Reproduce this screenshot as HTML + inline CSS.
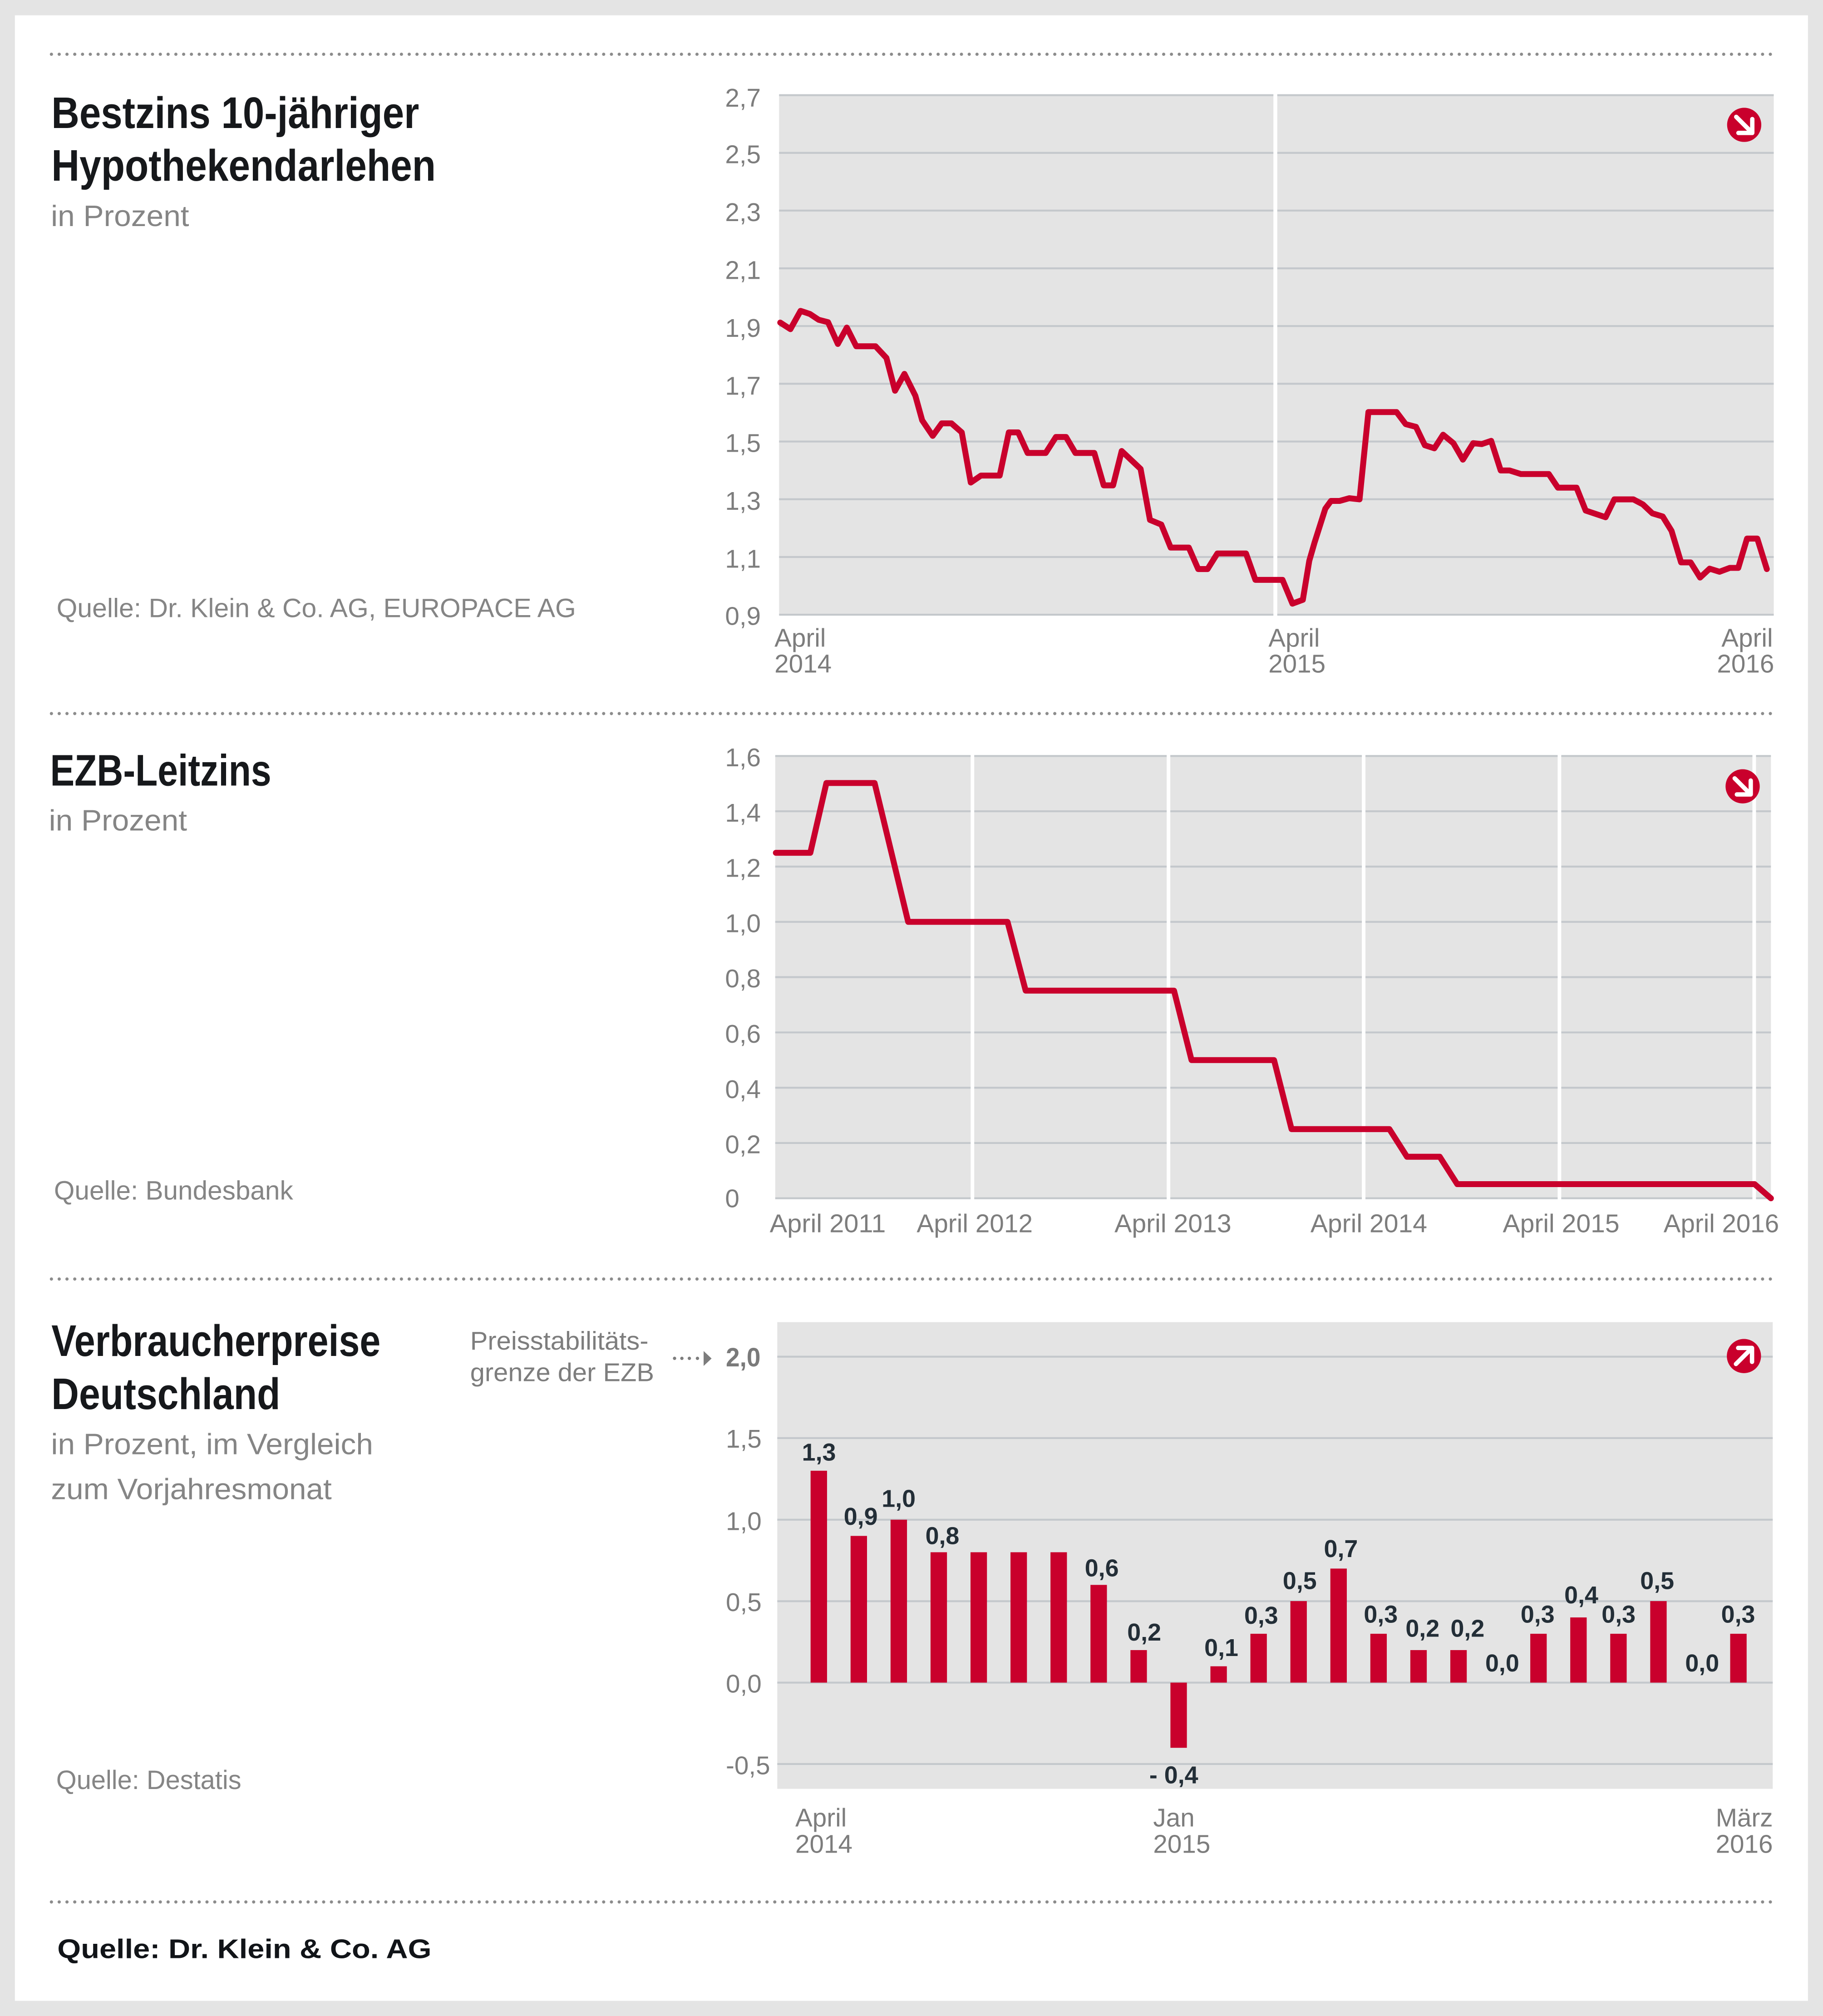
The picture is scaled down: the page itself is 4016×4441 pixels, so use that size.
<!DOCTYPE html>
<html>
<head>
<meta charset="utf-8">
<style>
html,body{margin:0;padding:0;background:#e4e4e4;}
body{width:4016px;height:4441px;overflow:hidden;}
svg{display:block;}
text{font-family:"Liberation Sans",Arial,sans-serif;}
</style>
</head>
<body>
<svg width="4016" height="4441" viewBox="0 0 1418 1568" preserveAspectRatio="none" xmlns="http://www.w3.org/2000/svg">
<rect x="0" y="0" width="1418" height="1568" fill="#e4e4e4"/>
<rect x="11.6" y="11.9" width="1394.7" height="1544.3" fill="#ffffff"/>

<!-- dotted separators -->
<g stroke="#8c8c8c" stroke-width="2.5" stroke-linecap="round" stroke-dasharray="0 6.05">
<line x1="40" y1="42.2" x2="1378" y2="42.2"/>
<line x1="40" y1="555" x2="1378" y2="555"/>
<line x1="40" y1="994.8" x2="1378" y2="994.8"/>
<line x1="40" y1="1479.3" x2="1378" y2="1479.3"/>
</g>

<!-- ============ SECTION 1 ============ -->
<text x="40" y="99.5" font-size="34.5" font-weight="bold" fill="#16181b" textLength="286" lengthAdjust="spacingAndGlyphs">Bestzins 10-jähriger</text>
<text x="40" y="140.6" font-size="34.5" font-weight="bold" fill="#16181b" textLength="299" lengthAdjust="spacingAndGlyphs">Hypothekendarlehen</text>
<text x="39.6" y="175.8" font-size="23" fill="#858585" textLength="107.5" lengthAdjust="spacingAndGlyphs">in Prozent</text>
<text x="44" y="480" font-size="20.5" fill="#858585" textLength="404" lengthAdjust="spacingAndGlyphs">Quelle: Dr. Klein &amp; Co. AG, EUROPACE AG</text>

<rect x="606" y="74" width="773.7" height="404.1" fill="#e4e4e4"/>
<g stroke="#c4c8cc" stroke-width="1.5">
<line x1="606" y1="74" x2="1379.7" y2="74"/>
<line x1="606" y1="118.9" x2="1379.7" y2="118.9"/>
<line x1="606" y1="163.8" x2="1379.7" y2="163.8"/>
<line x1="606" y1="208.7" x2="1379.7" y2="208.7"/>
<line x1="606" y1="253.6" x2="1379.7" y2="253.6"/>
<line x1="606" y1="298.5" x2="1379.7" y2="298.5"/>
<line x1="606" y1="343.4" x2="1379.7" y2="343.4"/>
<line x1="606" y1="388.3" x2="1379.7" y2="388.3"/>
<line x1="606" y1="433.2" x2="1379.7" y2="433.2"/>
<line x1="606" y1="478.1" x2="1379.7" y2="478.1"/>
</g>
<line x1="992" y1="72" x2="992" y2="479" stroke="#ffffff" stroke-width="3"/>

<g font-size="20" fill="#7d7d7d">
<text x="564" y="83">2,7</text>
<text x="564" y="127">2,5</text>
<text x="564" y="172">2,3</text>
<text x="564" y="217">2,1</text>
<text x="564" y="262">1,9</text>
<text x="564" y="307">1,7</text>
<text x="564" y="351.5">1,5</text>
<text x="564" y="396.5">1,3</text>
<text x="564" y="441.5">1,1</text>
<text x="564" y="486">0,9</text>
<text x="602.4" y="503">April</text>
<text x="602.4" y="523">2014</text>
<text x="986.6" y="503">April</text>
<text x="986.6" y="523">2015</text>
<text x="1379" y="503" text-anchor="end">April</text>
<text x="1380" y="523" text-anchor="end">2016</text>
</g>

<polyline fill="none" stroke="#c9002c" stroke-width="4.6" stroke-linejoin="round" stroke-linecap="round" points="606.9,250.9 614.8,256.0 622.7,241.8 630.0,244.2 636.8,248.7 644.1,250.6 651.7,267.5 658.7,254.8 666.0,269.3 681.0,269.3 689.5,278.4 696.2,303.9 703.5,290.8 712.0,307.8 717.3,326.9 725.5,339.0 732.5,329.3 740.1,329.3 748.1,336.3 755.1,375.3 763.0,369.9 777.6,369.9 784.7,336.3 792.0,336.3 799.3,352.3 813.4,352.3 821.3,339.9 829.2,339.9 836.5,352.3 851.2,352.3 858.5,377.5 865.8,377.5 872.5,350.8 887.2,364.7 894.5,404.4 903.3,408.0 910.6,425.9 924.7,425.9 932.0,442.6 939.3,442.6 946.9,430.5 969.2,430.5 976.5,451.0 997.6,451.0 1005.3,469.5 1013.4,466.5 1018.4,436.2 1022.5,422.0 1030.9,395.6 1035.3,389.6 1042.1,389.6 1049.5,387.5 1057.5,388.4 1064.4,320.5 1086.3,320.5 1093.4,329.9 1101.4,332.0 1108.3,346.3 1115.7,348.7 1122.5,338.1 1130.5,344.7 1137.9,357.5 1145.9,344.7 1152.5,345.4 1159.9,342.9 1167.3,365.9 1174.1,365.9 1183.0,368.7 1204.7,368.7 1211.8,379.3 1226.3,379.3 1233.4,397.1 1248.9,402.3 1255.7,388.4 1270.5,388.4 1277.9,392.3 1285.3,399.3 1293.3,401.7 1300.2,412.9 1307.6,437.4 1315.0,437.4 1322.4,449.2 1329.8,442.3 1337.5,444.7 1345.5,441.7 1352.1,441.7 1358.9,418.9 1366.9,418.9 1374.3,442.6"/>

<!-- icon down-right -->
<g transform="translate(1356.7,97.1)">
<circle r="13.3" fill="#c9002c"/>
<g stroke="#ffffff" stroke-width="3.4" stroke-linecap="round" stroke-linejoin="round" fill="none">
<line x1="-6.2" y1="-6.2" x2="5.5" y2="5.5"/>
<polyline points="6.3,-4.5 6.3,6.3 -4.5,6.3"/>
</g>
</g>

<!-- ============ SECTION 2 ============ -->
<text x="39" y="611" font-size="34.5" font-weight="bold" fill="#16181b" textLength="172" lengthAdjust="spacingAndGlyphs">EZB-Leitzins</text>
<text x="38" y="646" font-size="23" fill="#858585" textLength="107.5" lengthAdjust="spacingAndGlyphs">in Prozent</text>
<text x="42" y="933" font-size="20.5" fill="#858585" textLength="186" lengthAdjust="spacingAndGlyphs">Quelle: Bundesbank</text>

<rect x="603" y="588" width="774.5" height="344" fill="#e4e4e4"/>
<g stroke="#c4c8cc" stroke-width="1.5">
<line x1="603" y1="588" x2="1377.5" y2="588"/>
<line x1="603" y1="631" x2="1377.5" y2="631"/>
<line x1="603" y1="674" x2="1377.5" y2="674"/>
<line x1="603" y1="717" x2="1377.5" y2="717"/>
<line x1="603" y1="760" x2="1377.5" y2="760"/>
<line x1="603" y1="803" x2="1377.5" y2="803"/>
<line x1="603" y1="846" x2="1377.5" y2="846"/>
<line x1="603" y1="889" x2="1377.5" y2="889"/>
<line x1="603" y1="932" x2="1377.5" y2="932"/>
</g>
<g stroke="#ffffff" stroke-width="2.8">
<line x1="756.4" y1="586" x2="756.4" y2="933"/>
<line x1="908.9" y1="586" x2="908.9" y2="933"/>
<line x1="1060.7" y1="586" x2="1060.7" y2="933"/>
<line x1="1213" y1="586" x2="1213" y2="933"/>
<line x1="1364.5" y1="586" x2="1364.5" y2="933"/>
</g>

<g font-size="20" fill="#7d7d7d">
<text x="564" y="596">1,6</text>
<text x="564" y="639">1,4</text>
<text x="564" y="682">1,2</text>
<text x="564" y="725">1,0</text>
<text x="564" y="768">0,8</text>
<text x="564" y="811">0,6</text>
<text x="564" y="854">0,4</text>
<text x="564" y="897">0,2</text>
<text x="564" y="939">0</text>
<text x="598.7" y="958.5" textLength="90.3" lengthAdjust="spacingAndGlyphs">April 2011</text>
<text x="713" y="958.5" textLength="90.3" lengthAdjust="spacingAndGlyphs">April 2012</text>
<text x="866.9" y="958.5" textLength="90.9" lengthAdjust="spacingAndGlyphs">April 2013</text>
<text x="1019.3" y="958.5" textLength="90.8" lengthAdjust="spacingAndGlyphs">April 2014</text>
<text x="1168.9" y="958.5" textLength="90.8" lengthAdjust="spacingAndGlyphs">April 2015</text>
<text x="1294" y="958.5" textLength="89.8" lengthAdjust="spacingAndGlyphs">April 2016</text>
</g>

<polyline fill="none" stroke="#c9002c" stroke-width="4.6" stroke-linejoin="round" stroke-linecap="round" points="603.5,663.3 630.3,663.3 642.8,609 680.3,609 706.4,717 783.7,717 797.8,770.5 913.2,770.5 926.8,824.5 991,824.5 1004.6,878.2 1080.7,878.2 1094.4,899.7 1119.9,899.7 1133.5,921 1364.8,921 1377.5,932"/>

<g transform="translate(1355.5,611.6)">
<circle r="13.3" fill="#c9002c"/>
<g stroke="#ffffff" stroke-width="3.4" stroke-linecap="round" stroke-linejoin="round" fill="none">
<line x1="-6.2" y1="-6.2" x2="5.5" y2="5.5"/>
<polyline points="6.3,-4.5 6.3,6.3 -4.5,6.3"/>
</g>
</g>

<!-- ============ SECTION 3 ============ -->
<text x="40" y="1054.7" font-size="34.5" font-weight="bold" fill="#16181b" textLength="256" lengthAdjust="spacingAndGlyphs">Verbraucherpreise</text>
<text x="40" y="1095.9" font-size="34.5" font-weight="bold" fill="#16181b" textLength="178" lengthAdjust="spacingAndGlyphs">Deutschland</text>
<text x="39.7" y="1131" font-size="23" fill="#858585" textLength="250.5" lengthAdjust="spacingAndGlyphs">in Prozent, im Vergleich</text>
<text x="39.7" y="1166" font-size="23" fill="#858585" textLength="218.3" lengthAdjust="spacingAndGlyphs">zum Vorjahresmonat</text>
<text x="43.7" y="1391.4" font-size="20.5" fill="#858585" textLength="144" lengthAdjust="spacingAndGlyphs">Quelle: Destatis</text>

<text x="365.7" y="1049.7" font-size="20" fill="#7d7d7d" textLength="138.7" lengthAdjust="spacingAndGlyphs">Preisstabilitäts-</text>
<text x="365.7" y="1074.2" font-size="20" fill="#7d7d7d" textLength="143.1" lengthAdjust="spacingAndGlyphs">grenze der EZB</text>
<g fill="#7d7d7d">
<circle cx="524.7" cy="1056.5" r="1.3"/>
<circle cx="530.4" cy="1056.5" r="1.3"/>
<circle cx="536.2" cy="1056.5" r="1.3"/>
<circle cx="542.5" cy="1056.5" r="1.3"/>
<polygon points="547.3,1050.8 553.5,1056.6 547.3,1062.4"/>
</g>
<text x="564.6" y="1062.8" font-size="20.5" font-weight="bold" fill="#7a7a7a" textLength="27" lengthAdjust="spacingAndGlyphs">2,0</text>

<rect x="604.6" y="1028.3" width="774.3" height="363" fill="#e4e4e4"/>
<g stroke="#c4c8cc" stroke-width="1.5">
<line x1="604.6" y1="1055.2" x2="1378.9" y2="1055.2"/>
<line x1="604.6" y1="1118.5" x2="1378.9" y2="1118.5"/>
<line x1="604.6" y1="1182" x2="1378.9" y2="1182"/>
<line x1="604.6" y1="1245.4" x2="1378.9" y2="1245.4"/>
<line x1="604.6" y1="1308.7" x2="1378.9" y2="1308.7"/>
<line x1="604.6" y1="1372" x2="1378.9" y2="1372"/>
</g>

<g font-size="20" fill="#7d7d7d">
<text x="564.6" y="1126">1,5</text>
<text x="564.6" y="1190">1,0</text>
<text x="564.6" y="1253">0,5</text>
<text x="564.6" y="1316.5">0,0</text>
<text x="564.6" y="1380">-0,5</text>
<text x="618.6" y="1420.6">April</text>
<text x="618.6" y="1441">2014</text>
<text x="897" y="1420.6">Jan</text>
<text x="897" y="1441">2015</text>
<text x="1379" y="1420.6" text-anchor="end">März</text>
<text x="1379" y="1441" text-anchor="end">2016</text>
</g>

<!-- bars -->
<g fill="#c9002c">
<rect x="630.5" y="1143.9" width="12.8" height="164.8"/>
<rect x="661.6" y="1194.6" width="12.8" height="114.1"/>
<rect x="692.7" y="1182" width="12.8" height="126.7"/>
<rect x="723.8" y="1207.3" width="12.8" height="101.4"/>
<rect x="754.9" y="1207.3" width="12.8" height="101.4"/>
<rect x="786.0" y="1207.3" width="12.8" height="101.4"/>
<rect x="817.1" y="1207.3" width="12.8" height="101.4"/>
<rect x="848.2" y="1232.7" width="12.8" height="76"/>
<rect x="879.3" y="1283.4" width="12.8" height="25.3"/>
<rect x="910.4" y="1308.7" width="12.8" height="50.7"/>
<rect x="941.5" y="1296" width="12.8" height="12.7"/>
<rect x="972.6" y="1270.7" width="12.8" height="38"/>
<rect x="1003.7" y="1245.3" width="12.8" height="63.4"/>
<rect x="1034.8" y="1220" width="12.8" height="88.7"/>
<rect x="1065.9" y="1270.7" width="12.8" height="38"/>
<rect x="1097.0" y="1283.4" width="12.8" height="25.3"/>
<rect x="1128.1" y="1283.4" width="12.8" height="25.3"/>
<rect x="1190.3" y="1270.7" width="12.8" height="38"/>
<rect x="1221.4" y="1258" width="12.8" height="50.7"/>
<rect x="1252.5" y="1270.7" width="12.8" height="38"/>
<rect x="1283.6" y="1245.3" width="12.8" height="63.4"/>
<rect x="1345.8" y="1270.7" width="12.8" height="38"/>
</g>

<g font-size="19" font-weight="bold" fill="#232e37" text-anchor="middle">
<text x="637" y="1136">1,3</text>
<text x="669.5" y="1186">0,9</text>
<text x="699" y="1172">1,0</text>
<text x="733" y="1201">0,8</text>
<text x="857" y="1226">0,6</text>
<text x="890" y="1276">0,2</text>
<text x="913" y="1387">- 0,4</text>
<text x="950" y="1288">0,1</text>
<text x="981" y="1263">0,3</text>
<text x="1011" y="1236">0,5</text>
<text x="1043" y="1211">0,7</text>
<text x="1074" y="1262">0,3</text>
<text x="1106.5" y="1273">0,2</text>
<text x="1141.5" y="1273">0,2</text>
<text x="1168.5" y="1300">0,0</text>
<text x="1196" y="1262">0,3</text>
<text x="1230" y="1247">0,4</text>
<text x="1259" y="1262">0,3</text>
<text x="1289" y="1236">0,5</text>
<text x="1324" y="1300">0,0</text>
<text x="1352" y="1262">0,3</text>
</g>

<!-- icon up-right -->
<g transform="translate(1356.5,1054.7)">
<circle r="13.3" fill="#c9002c"/>
<g stroke="#ffffff" stroke-width="3.4" stroke-linecap="round" stroke-linejoin="round" fill="none">
<line x1="-6.2" y1="6.2" x2="5.5" y2="-5.5"/>
<polyline points="6.3,4.5 6.3,-6.3 -4.5,-6.3"/>
</g>
</g>

<!-- footer -->
<text x="44.6" y="1523" font-size="21" font-weight="bold" fill="#111418" textLength="291" lengthAdjust="spacingAndGlyphs">Quelle: Dr. Klein &amp; Co. AG</text>
</svg>
</body>
</html>
